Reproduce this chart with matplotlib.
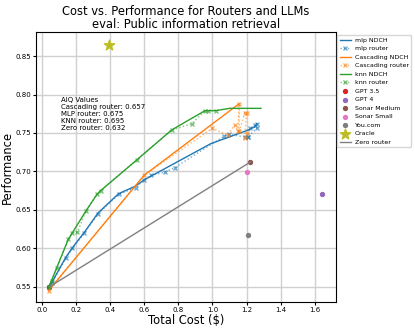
import numpy as np
import matplotlib
matplotlib.use("Agg")
import matplotlib.pyplot as plt

# router curves (cost, performance)
mlp_ndch_x = [0.04, 0.06, 0.14, 0.18, 0.25, 0.33, 0.45, 0.55, 0.60, 0.99, 1.20, 1.25, 1.26]
mlp_ndch_y = [0.550, 0.556, 0.588, 0.601, 0.621, 0.646, 0.671, 0.681, 0.689, 0.736, 0.753, 0.758, 0.762]
mlp_router_x = [0.04, 0.06, 0.14, 0.18, 0.25, 0.33, 0.45, 0.55, 0.60, 0.64, 0.72, 0.78,
                1.07, 1.10, 1.19, 1.21, 1.22, 1.25, 1.26, 1.26, 1.21]
mlp_router_y = [0.550, 0.555, 0.587, 0.600, 0.620, 0.645, 0.670, 0.679, 0.689, 0.695, 0.699, 0.705,
                0.746, 0.748, 0.745, 0.745, 0.756, 0.760, 0.762, 0.756, 0.745]

casc_ndch_x = [0.04, 0.60, 1.157]
casc_ndch_y = [0.545, 0.695, 0.788]
casc_router_x = [0.04, 0.60, 1.00, 1.09, 1.13, 1.15, 1.157, 1.157, 1.19, 1.20, 1.19, 1.20]
casc_router_y = [0.545, 0.695, 0.756, 0.747, 0.760, 0.752, 0.788, 0.752, 0.776, 0.776, 0.743, 0.750]

knn_ndch_x = [0.04, 0.059, 0.088, 0.156, 0.26, 0.326, 0.345, 0.557, 0.762, 0.957, 0.977, 1.02, 1.10, 1.285]
knn_ndch_y = [0.550, 0.559, 0.575, 0.612, 0.649, 0.671, 0.675, 0.715, 0.754, 0.779, 0.779, 0.779, 0.782, 0.782]
knn_router_x = [0.04, 0.059, 0.088, 0.156, 0.18, 0.209, 0.26, 0.326, 0.345, 0.557, 0.762, 0.879, 0.957, 0.977, 1.02]
knn_router_y = [0.550, 0.558, 0.575, 0.612, 0.620, 0.621, 0.649, 0.671, 0.675, 0.715, 0.754, 0.762, 0.779, 0.779, 0.779]

# single models
models = ["GPT 3.5", "GPT 4", "Sonar Medium", "Sonar Small", "You.com"]
model_cost = [0.045, 1.645, 1.221, 1.205, 1.209]
model_perf = [0.550, 0.670, 0.712, 0.699, 0.617]
model_colors = ["tab:red", "tab:purple", "tab:brown", "tab:pink", "tab:gray"]

oracle_cost, oracle_perf = 0.394, 0.865

aiq = {"Cascading router": 0.657, "MLP router": 0.675, "KNN router": 0.695, "Zero router": 0.632}

fig = plt.figure(figsize=(4.15, 3.32), dpi=100)
ax = fig.add_axes([0.0875, 0.091, 0.7215, 0.812])

ax.plot(mlp_ndch_x, mlp_ndch_y, color="tab:blue", lw=1, label="mlp NDCH")
ax.plot(mlp_router_x, mlp_router_y, color="tab:blue", marker="x", markersize=3, lw=1,
        ls=":", alpha=0.6, label="mlp router")
ax.plot(casc_ndch_x, casc_ndch_y, color="tab:orange", lw=1, label="Cascading NDCH")
ax.plot(casc_router_x, casc_router_y, color="tab:orange", marker="x", markersize=3, lw=1,
        ls=":", alpha=0.6, label="Cascading router")
ax.plot(knn_ndch_x, knn_ndch_y, color="tab:green", lw=1, label="knn NDCH")
ax.plot(knn_router_x, knn_router_y, color="tab:green", marker="x", markersize=3, lw=1,
        ls=":", alpha=0.6, label="knn router")

for name, c, p, col in zip(models, model_cost, model_perf, model_colors):
    ax.scatter(c, p, color=col, s=8, label=name, zorder=1.5)
ax.scatter(oracle_cost, oracle_perf, color="tab:olive", marker="*", s=60, label="Oracle", zorder=3)

# zero router: line from cheapest to sonar medium
ax.plot([model_cost[0], model_cost[2]], [model_perf[0], model_perf[2]], color="gray", lw=1, label="Zero router")

txt = "AIQ Values\n" + "\n".join(f"{k}: {v}" for k, v in aiq.items())
ax.text(0.11, 0.797, txt, fontsize=5, va="top", ha="left")

ax.set_xlim(-0.032, 1.723)
ax.set_ylim(0.5305, 0.881)
ax.grid(True, color="#d0d0d0", lw=1)
ax.set_axisbelow(True)
ax.tick_params(labelsize=5, length=2.5, pad=1.5)
ax.set_xlabel("Total Cost ($)", fontsize=8.3)
ax.set_ylabel("Performance", fontsize=8.3)
ax.xaxis.set_label_coords(0.5, -0.045)
ax.yaxis.set_label_coords(-0.075, 0.5)
ax.set_title("Cost vs. Performance for Routers and LLMs\neval: Public information retrieval",
             fontsize=8.3, pad=3, linespacing=1.0)
ax.legend(loc="upper left", bbox_to_anchor=(1.005, 0.99), fontsize=4.5, borderaxespad=0,
          handlelength=1.8, handletextpad=0.6)

fig.savefig("out.png", dpi=100)
